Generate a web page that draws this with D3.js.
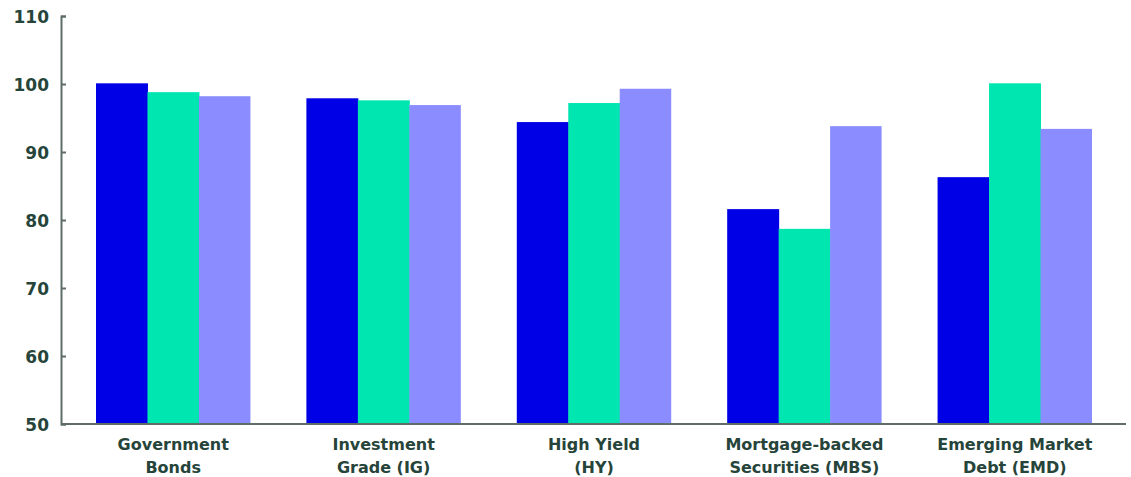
<!DOCTYPE html>
<html>
<head>
<meta charset="utf-8">
<script src="https://cdn.jsdelivr.net/npm/d3@7"></script>
<style>
  html, body { margin: 0; padding: 0; background: #fff; }
  svg { display: block; }
  text { font-family: "DejaVu Sans", "Liberation Sans", sans-serif; font-weight: 700; fill: #26443a; }
</style>
</head>
<body>
<svg id="chart" width="1131" height="477"></svg>
<script>
const categories = [
  ["Government", "Bonds"],
  ["Investment", "Grade (IG)"],
  ["High Yield", "(HY)"],
  ["Mortgage-backed", "Securities (MBS)"],
  ["Emerging Market", "Debt (EMD)"]
];
const seriesA = [100.1, 97.9, 94.4, 81.6, 86.3];
const seriesB = [98.8, 97.6, 97.2, 78.7, 100.1];
const seriesC = [98.2, 96.9, 99.3, 93.8, 93.4];
const yTicks = [50, 60, 70, 80, 90, 100, 110];
const colors = ["#0000e6", "#00e6b0", "#8a8cff"];

const svg = d3.select("#chart");
const axisX = 61, plotRight = 1126, yTop = 16, yBottom = 424;

const y = d3.scaleLinear().domain([50, 110]).range([yBottom, yTop]);
const keys = categories.map((c, i) => i);
const x0 = d3.scaleBand().domain(keys).range([96, 1092]).paddingInner(0.266).paddingOuter(0);
const x1 = d3.scaleBand().domain([0, 1, 2]).range([0, x0.bandwidth()]).padding(0);

const series = [seriesA, seriesB, seriesC];

const g = svg.append("g");
keys.forEach(i => {
  const grp = g.append("g").attr("transform", `translate(${x0(i)},0)`);
  series.forEach((s, k) => {
    grp.append("rect")
      .attr("x", x1(k))
      .attr("width", x1.bandwidth() + (k < 2 ? 0.5 : 0))
      .attr("y", y(s[i]))
      .attr("height", y(50) - y(s[i]))
      .attr("fill", colors[k]);
  });
});

// Y axis
const yAxis = svg.append("g").attr("transform", `translate(${axisX},0)`)
  .call(d3.axisRight(y).tickValues(yTicks).tickSize(5).tickFormat(d3.format("d")));
yAxis.select(".domain").attr("stroke", "#5f6d67").attr("stroke-width", 2);
yAxis.selectAll(".tick line").attr("stroke", "#5f6d67").attr("stroke-width", 2);
yAxis.selectAll(".tick text")
  .attr("x", -12).attr("text-anchor", "end").attr("dy", "0.36em")
  .style("font-size", "17px").attr("fill", "#26443a");

// X axis line
svg.append("line")
  .attr("x1", axisX).attr("x2", plotRight)
  .attr("y1", yBottom).attr("y2", yBottom)
  .attr("stroke", "#5f6d67").attr("stroke-width", 2);

// Category labels
keys.forEach(i => {
  const cx = x0(i) + x0.bandwidth() / 2;
  const t = svg.append("text").attr("text-anchor", "middle").style("font-size", "16px");
  categories[i].forEach((line, j) => {
    t.append("tspan").attr("x", cx).attr("y", 450 + j * 23).text(line);
  });
});
</script>
</body>
</html>
